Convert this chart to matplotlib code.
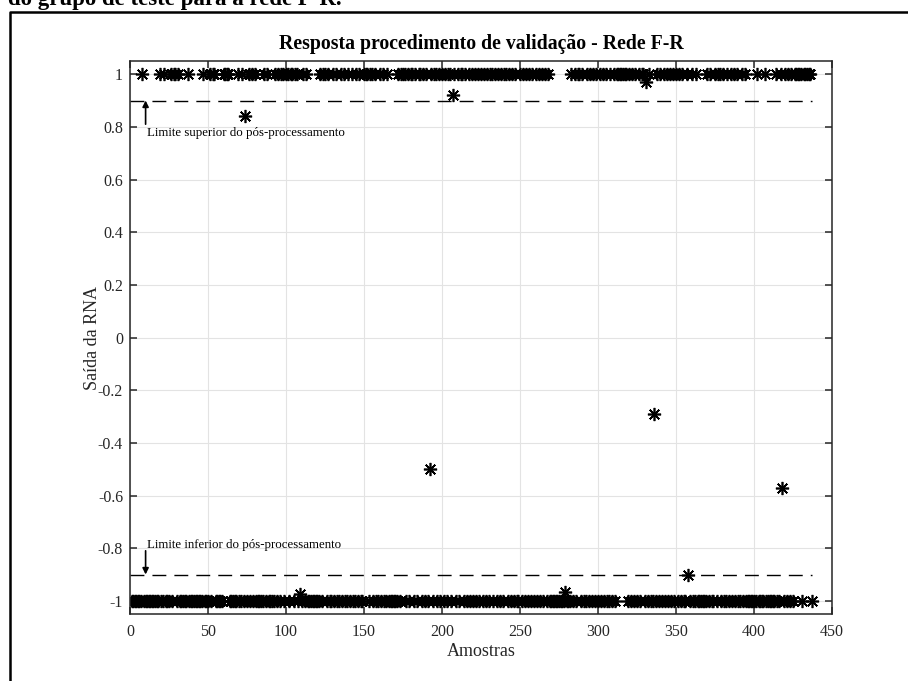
import numpy as np
import matplotlib
matplotlib.use("Agg")
import matplotlib.pyplot as plt
from matplotlib.lines import Line2D

plt.rcParams['font.family'] = ['Liberation Serif', 'DejaVu Serif']
plt.rcParams['axes.unicode_minus'] = False

# ---- data ----
n_samples = 437
# samples whose network output is +1
top_samples = [8, 19, 22, 26, 28, 29, 31, 37, 47, 51, 53, 54, 60, 61, 62, 63, 69, 72,
               76, 78, 80, 86, 88, 93, 95, 97, 98, 100, 101, 103, 104, 106, 107, 111,
               113, 122, 124, 125, 127, 130, 132, 135, 137, 140, 142, 145, 147, 150,
               151, 152, 154, 155, 157, 160, 162, 165, 172, 174, 175, 176, 178, 180,
               181, 183, 185, 186, 188, 190, 193, 195, 196, 198, 200, 202, 204, 205,
               208, 210, 212, 213, 215, 217, 219, 221, 223, 225, 227, 229, 231, 232,
               234, 236, 238, 240, 241, 243, 245, 247, 250, 252, 254, 256, 258, 260,
               262, 264, 266, 268, 283, 285, 287, 288, 290, 293, 295, 297, 299, 301,
               303, 305, 308, 310, 312, 313, 314, 315, 316, 317, 318, 320, 322, 324,
               326, 328, 329, 333, 338, 340, 342, 344, 346, 348, 350, 352, 354, 357,
               360, 363, 370, 372, 375, 377, 378, 380, 383, 385, 387, 389, 392, 394,
               402, 407, 414, 417, 420, 422, 424, 426, 427, 428, 429, 430, 432, 433,
               434, 435, 436]
# samples with intermediate outputs
outlier_samples = [74, 207, 331, 192, 336, 418, 358, 279, 109]
outlier_values = [0.84, 0.92, 0.97, -0.50, -0.29, -0.57, -0.90, -0.965, -0.975]
low_value = -1.0
high_value = 1.0

upper_limit = 0.9
lower_limit = -0.9
limit_span = [0, 437]

xticks = [0, 50, 100, 150, 200, 250, 300, 350, 400, 450]
yticks = [-1, -0.8, -0.6, -0.4, -0.2, 0, 0.2, 0.4, 0.6, 0.8, 1]
ytick_labels = ['-1', '-0.8', '-0.6', '-0.4', '-0.2', '0', '0.2', '0.4', '0.6', '0.8', '1']

# ---- build series ----
x = np.arange(1, n_samples + 1)
y = np.full(n_samples, low_value)
y[np.array(top_samples) - 1] = high_value
y[np.array(outlier_samples) - 1] = outlier_values

W, H = 908, 681
fig = plt.figure(figsize=(W / 100, H / 100), dpi=100)
fig.patch.set_facecolor('white')

# page frame and clipped caption from the document
fig.add_artist(Line2D([10 / W, 10 / W, 1.0], [0.0, 1 - 12 / H, 1 - 12 / H],
                      transform=fig.transFigure, color='black', lw=1.8))
fig.text(8 / W, 1 - 5 / H, "do grupo de teste para a rede F-R.", fontsize=16.5,
         fontweight='bold', ha='left', va='baseline')

ax = fig.add_axes([130 / W, 1 - 614 / H, (832 - 130) / W, (614 - 61) / H])

ax.plot(x, y, linestyle='none', marker=(8, 2, 0), markersize=9.5,
        markeredgecolor='black', markerfacecolor='black', markeredgewidth=1.2)

ax.plot(limit_span, [upper_limit, upper_limit], color='black', linestyle='--',
        lw=1.0, dashes=(10, 5.8))
ax.plot(limit_span, [lower_limit, lower_limit], color='black', linestyle='--',
        lw=1.0, dashes=(10, 5.8))

ax.annotate('', xy=(10, 0.9), xytext=(10, 0.81),
            arrowprops=dict(arrowstyle='-|>', color='black', lw=1.2, mutation_scale=9,
                            shrinkA=0, shrinkB=0))
ax.annotate('', xy=(10, -0.9), xytext=(10, -0.81),
            arrowprops=dict(arrowstyle='-|>', color='black', lw=1.2, mutation_scale=9,
                            shrinkA=0, shrinkB=0))
ax.text(11, 0.776, 'Limite superior do pós-processamento', fontsize=9.3,
        ha='left', va='center')
ax.text(11, -0.787, 'Limite inferior do pós-processamento', fontsize=9.3,
        ha='left', va='center')

ax.set_xlim(0, 450)
ax.set_ylim(-1.05, 1.05)
ax.set_xticks(xticks)
ax.set_yticks(yticks)
ax.set_yticklabels(ytick_labels)
ax.grid(True, color='#e3e3e3', lw=0.8)
ax.set_axisbelow(True)

for s in ax.spines.values():
    s.set_color('#262626')
    s.set_linewidth(1.1)
ax.tick_params(direction='in', length=5, width=1.1, colors='#262626',
               top=True, right=True, labelsize=11.5, labelcolor='#262626')
ax.tick_params(axis='x', pad=7)
ax.tick_params(axis='y', pad=5)

ax.set_title('Resposta procedimento de validação - Rede F-R', fontsize=14.2,
             fontweight='bold', pad=9)
ax.set_xlabel('Amostras', fontsize=13, color='#262626', labelpad=2)
ax.set_ylabel('Saída da RNA', fontsize=13, color='#262626')
ax.yaxis.set_label_coords(-0.042, 0.5)

fig.savefig('out.png', dpi=100, facecolor='white')
